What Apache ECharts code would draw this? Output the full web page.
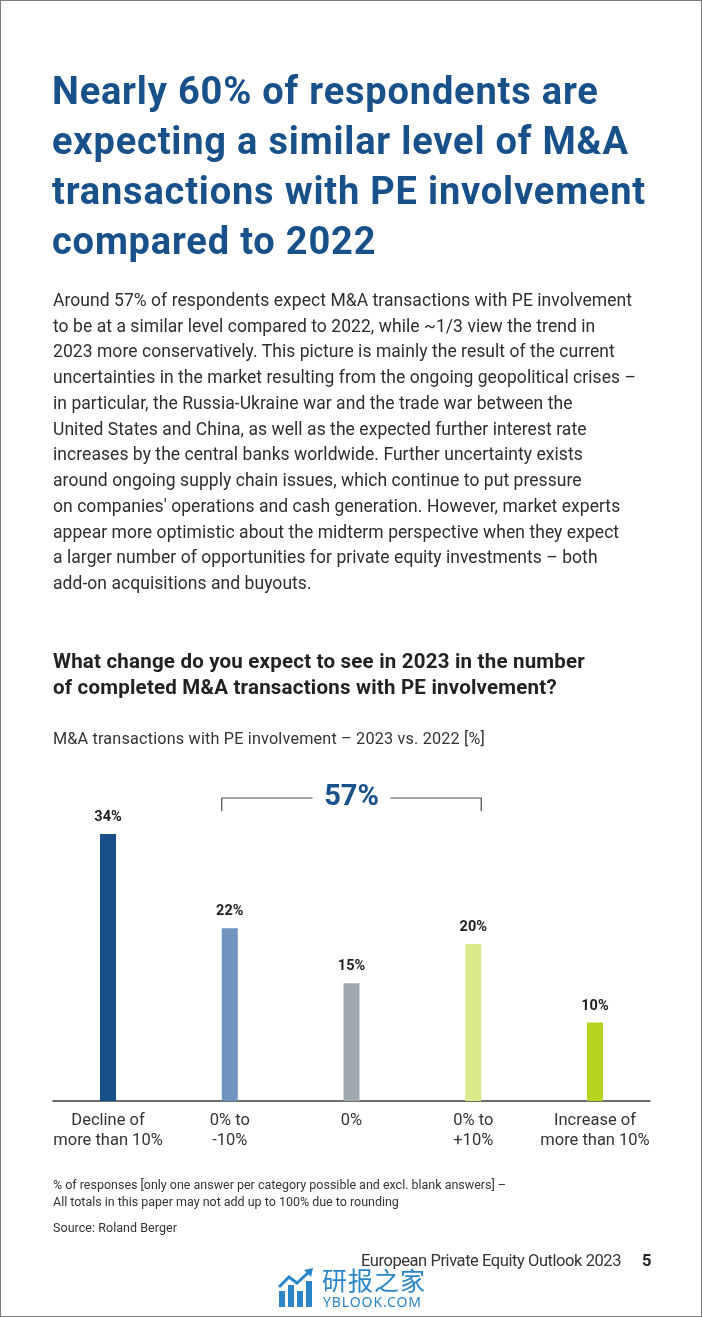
<!DOCTYPE html>
<html>
<head>
<meta charset="utf-8">
<script src="https://cdn.jsdelivr.net/npm/echarts@6/dist/echarts.min.js"></script>
<style>
  html, body { margin: 0; padding: 0; background: #fff; }
  #page { position: relative; width: 702px; height: 1317px; overflow: hidden; box-sizing: border-box; border: 1px solid #7a7a7a; }
  #chart { position: absolute; left: 0; top: 0; width: 702px; height: 1317px; }
  .t { position: absolute; white-space: nowrap; font-family: Roboto, Lato, sans-serif; }
  .t .ln { display: inline-block; }
  #title { left: 51px; top: 65px; font-size: 38px; line-height: 50px; font-weight: 700; color: #18508a; }
  #body { left: 52px; top: 287px; font-size: 17.5px; line-height: 25.73px; color: #2e2e2e; }
  #qtitle { left: 52px; top: 647px; font-size: 20.5px; line-height: 26px; font-weight: 700; color: #222; }
  #sub { left: 52px; top: 728px; font-size: 16.2px; line-height: 20px; color: #333; }
  #foot { left: 52px; top: 1175px; font-size: 12.5px; line-height: 17px; color: #333; }
  #src { left: 52px; top: 1218px; font-size: 12.5px; line-height: 17px; color: #333; }
  #footer { right: 80px; top: 1250px; font-size: 16.5px; line-height: 20px; color: #333; }
  #pnum { left: 641px; top: 1250px; font-size: 16.5px; line-height: 20px; color: #222; font-weight: 700; }
  #wm1 { left: 321px; top: 1263px; font-family: "Noto Sans CJK SC", sans-serif; font-size: 25px; line-height: 30px; color: #2a86c8; letter-spacing: 1px; }
  #wm2 { left: 322px; top: 1293px; font-family: "Noto Sans", sans-serif; font-size: 14px; line-height: 16px; color: #2a86c8; letter-spacing: 0.9px; }
  .ic { position: absolute; background: #2a86c8; }
</style>
</head>
<body>
<div id="page">
  <div id="chart"></div>
  <div class="t" id="title" data-w="594"></div>
  <div class="t" id="body" data-w="583"></div>
  <div class="t" id="qtitle" data-w="532"></div>
  <div class="t" id="sub" data-w="432"></div>
  <div class="t" id="foot" data-w="453"></div>
  <div class="t" id="src" data-w="124"></div>
  <div class="t" id="footer" data-w="260"></div>
  <div class="t" id="pnum">5</div>
  <div class="ic" style="left:278px;top:1290px;width:6px;height:16px;"></div>
  <div class="ic" style="left:287px;top:1284px;width:6px;height:22px;"></div>
  <div class="ic" style="left:296px;top:1290px;width:6px;height:16px;"></div>
  <div class="ic" style="left:305px;top:1280px;width:6px;height:26px;"></div>
  <svg style="position:absolute;left:276px;top:1266px;" width="40" height="24">
    <polyline points="2,20 12,10 20,16 33,4" fill="none" stroke="#2a86c8" stroke-width="3"/>
    <polygon points="36,1 27,3 34,10" fill="#2a86c8"/>
  </svg>
  <div class="t" id="wm1">研报之家</div>
  <div class="t" id="wm2">YBLOOK.COM</div>
</div>
<script>
// ---- page texts ----
const titleLines = ['Nearly 60% of respondents are', 'expecting a similar level of M&A', 'transactions with PE involvement', 'compared to 2022'];
const bodyLines = [
  'Around 57% of respondents expect M&A transactions with PE involvement',
  'to be at a similar level compared to 2022, while ~1/3 view the trend in',
  '2023 more conservatively. This picture is mainly the result of the current',
  'uncertainties in the market resulting from the ongoing geopolitical crises –',
  'in particular, the Russia-Ukraine war and the trade war between the',
  'United States and China, as well as the expected further interest rate',
  'increases by the central banks worldwide. Further uncertainty exists',
  'around ongoing supply chain issues, which continue to put pressure',
  "on companies' operations and cash generation. However, market experts",
  'appear more optimistic about the midterm perspective when they expect',
  'a larger number of opportunities for private equity investments – both',
  'add-on acquisitions and buyouts.'
];
const questionLines = ['What change do you expect to see in 2023 in the number', 'of completed M&A transactions with PE involvement?'];
const subtitleLines = ['M&A transactions with PE involvement – 2023 vs. 2022 [%]'];
const footnoteLines = ['% of responses [only one answer per category possible and excl. blank answers] –', 'All totals in this paper may not add up to 100% due to rounding'];
const sourceLines = ['Source: Roland Berger'];
const footerLines = ['European Private Equity Outlook 2023'];

// ---- chart data ----
const categories = ['Decline of\nmore than 10%', '0% to\n-10%', '0%', '0% to\n+10%', 'Increase of\nmore than 10%'];
const values = [34, 22, 15, 20, 10];
const barColors = ['#174f87', '#7193c0', '#a0a8b0', '#dce98a', '#b5d41f'];
const bracketFrom = 1;
const bracketTo = 3;
const bracketLabel = '57%';

// ---- fill & fit text blocks ----
function esc(s) { return s.replace(/&/g, '&amp;').replace(/</g, '&lt;'); }
function fill(id, lines) {
  const el = document.getElementById(id);
  el.innerHTML = lines.map(l => '<span class="ln">' + esc(l) + '</span>').join('<br>');
  const target = parseFloat(el.dataset.w);
  if (!target) return;
  const spans = el.querySelectorAll('.ln');
  let maxW = 0, maxN = 1;
  spans.forEach((s, i) => { const w = s.getBoundingClientRect().width; if (w > maxW) { maxW = w; maxN = lines[i].length; } });
  el.style.letterSpacing = ((target - maxW) / maxN).toFixed(3) + 'px';
}
fill('title', titleLines);
fill('body', bodyLines);
fill('qtitle', questionLines);
fill('sub', subtitleLines);
fill('foot', footnoteLines);
fill('src', sourceLines);
fill('footer', footerLines);

// ---- chart ----
const FONT = 'Roboto, Lato, sans-serif';
const BAR_W = 16;
const chart = echarts.init(document.getElementById('chart'), null, { renderer: 'canvas' });
const idx = categories.map((_, i) => i);

chart.setOption({
  animation: false,
  grid: { left: 52, right: 53, top: 786, bottom: 217, containLabel: false },
  xAxis: {
    type: 'value',
    min: -0.452,
    max: 4.452,
    splitLine: { show: false },
    axisTick: { show: false },
    axisLine: { show: true, lineStyle: { color: '#3d3d3d', width: 1.6 } },
    axisLabel: {
      customValues: idx,
      formatter: v => categories[Math.round(v)],
      fontFamily: FONT, fontSize: 16.5, lineHeight: 20, color: '#333', margin: 10,
      showMinLabel: true, showMaxLabel: true
    }
  },
  yAxis: { type: 'value', min: 0, max: 40, show: false, splitLine: { show: false } },
  series: [{
    type: 'bar',
    barWidth: BAR_W,
    data: values.map((v, i) => ({ value: [i, v], itemStyle: { color: barColors[i] } })),
    label: {
      show: true, position: 'top', distance: 9,
      formatter: p => p.value[1] + '%',
      fontFamily: FONT, fontSize: 14.5, fontWeight: 'bold', color: '#222'
    }
  }]
});

const xL = chart.convertToPixel({ xAxisIndex: 0 }, bracketFrom) - BAR_W / 2;
const xR = chart.convertToPixel({ xAxisIndex: 0 }, bracketTo) + BAR_W / 2;
const xM = (xL + xR) / 2;
const yB = 797, yT = 810, gap = 39;
const ls = { stroke: '#4a4a4a', lineWidth: 1.2, fill: null };
chart.setOption({
  graphic: [
    { type: 'polyline', shape: { points: [[xL, yT], [xL, yB], [xM - gap, yB]] }, style: ls, silent: true },
    { type: 'polyline', shape: { points: [[xM + gap, yB], [xR, yB], [xR, yT]] }, style: ls, silent: true },
    { type: 'text', x: xM, y: yB, style: { text: bracketLabel, fill: '#18508a', font: 'bold 29px ' + FONT, align: 'center', verticalAlign: 'middle' }, silent: true }
  ]
});
</script>
</body>
</html>
